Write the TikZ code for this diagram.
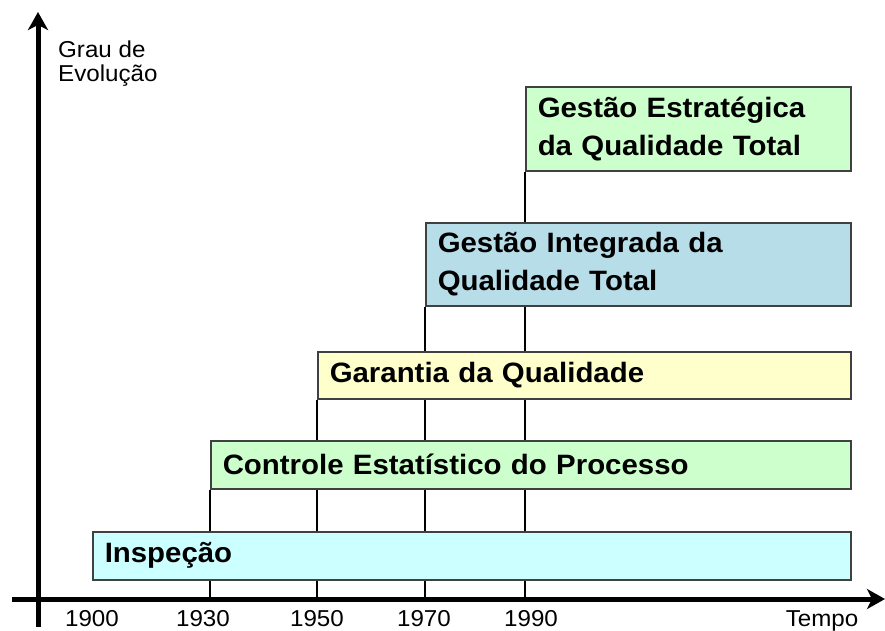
\documentclass[tikz,border=0pt]{standalone}
\usepackage{fontspec}
\setmainfont[FakeStretch=1.05]{Liberation Sans}
\usetikzlibrary{arrows.meta,backgrounds}

\definecolor{cyanbox}{HTML}{CCFFFF}
\definecolor{greenbox}{HTML}{CCFFCC}
\definecolor{yellowbox}{HTML}{FFFFCC}
\definecolor{bluebox}{HTML}{B7DDE8}

\begin{document}
\begin{tikzpicture}[x=1pt,y=-1pt,
    stage/.style={draw=black!75,line width=1.5pt,anchor=north west,align=left,
      inner xsep=12pt,inner ysep=0pt,font=\bfseries\fontsize{28}{38}\selectfont},
    axis/.style={line width=5pt,-{Stealth[length=18pt,width=20pt,inset=5pt]}},
    year/.style={anchor=base,font=\fontsize{23}{24}\selectfont}]
      % \draw[help lines,step=50](0,0) grid (885,630);
      \useasboundingbox (0,0) rectangle (885,630);

      \draw (92,531) node[stage,fill=cyanbox,text width=734pt,minimum height=48pt] (insp) {Inspeção};
      \draw (210,440) node[stage,fill=greenbox,text width=616pt,minimum height=48pt] (ctrl) {Controle Estatístico do Processo};
      \draw (317,351) node[stage,fill=yellowbox,text width=509pt,minimum height=47pt] (gar) {Garantia da Qualidade};
      \draw (425,222) node[stage,fill=bluebox,text width=401pt,minimum height=83pt] (gi) {Gestão Integrada da\\Qualidade Total};
      \draw (525,86) node[stage,fill=greenbox,text width=301pt,minimum height=84pt] (ge) {Gestão Estratégica\\da Qualidade Total};

      \coordinate (t1930) at (210,599);
      \coordinate (t1950) at (317,599);
      \coordinate (t1970) at (425,599);
      \coordinate (t1990) at (525,599);

      \begin{scope}[on background layer]
        \draw[line width=2.5pt] (t1930) -- (ctrl.south west);
        \draw[line width=2.5pt] (t1950) -- (gar.south west);
        \draw[line width=2.5pt] (t1970) -- (gi.south west);
        \draw[line width=2.5pt] (t1990) -- (ge.south west);
      \end{scope}

      \draw[axis] (12,599) -- (885,599);
      \draw[axis] (38,627) -- (38,12);

      \draw (58,41) node[anchor=north west,align=left,inner sep=0pt,font=\fontsize{23}{24}\selectfont] (grau) {Grau de\\Evolução};

      \draw (92,626) node[year] (y1900) {1900};
      \draw (203,626) node[year] (y1930) {1930};
      \draw (317,626) node[year] (y1950) {1950};
      \draw (424,626) node[year] (y1970) {1970};
      \draw (531,626) node[year] (y1990) {1990};
      \draw (822,626) node[year] (tempo) {Tempo};
\end{tikzpicture}
\end{document}
